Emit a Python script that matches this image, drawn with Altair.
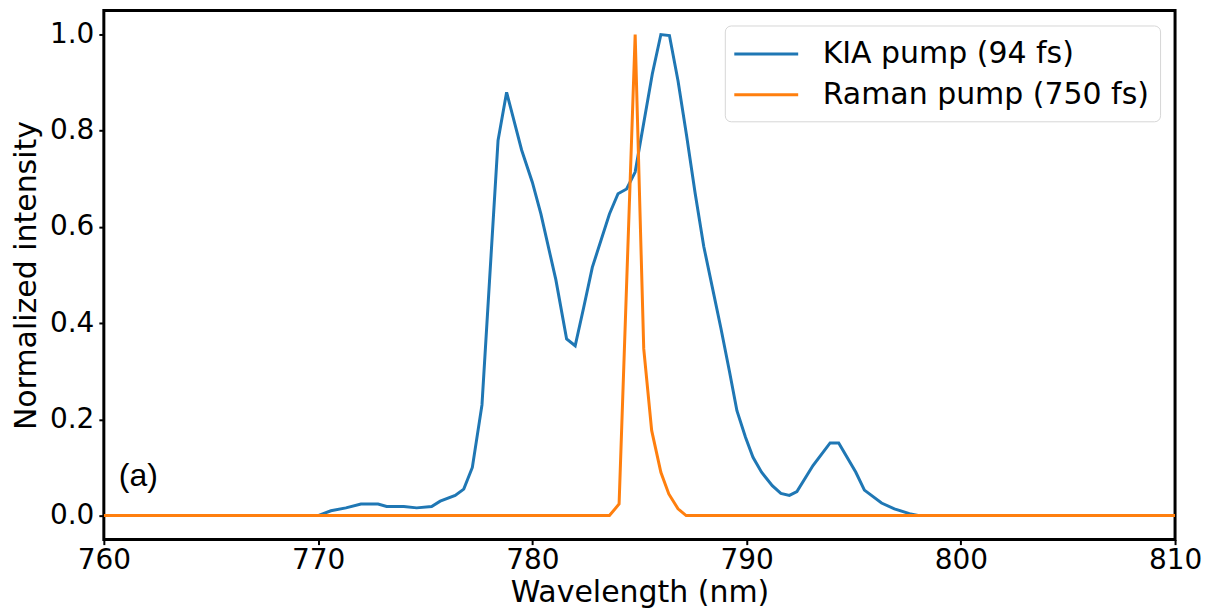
import altair as alt
import pandas as pd

# KIA pump spectrum (blue)
kia_wl = [760.0, 770.0, 770.6, 771.3, 772.0, 772.8, 773.2, 774.0, 774.6, 775.3,
          775.7, 776.4, 776.8, 777.2, 777.65, 778.4, 778.8, 779.5, 780.0, 780.4,
          781.1, 781.6, 782.0, 782.4, 782.8, 783.6, 784.0, 784.4, 784.8, 785.6,
          786.0, 786.4, 786.8, 787.2, 787.6, 788.0, 788.4, 788.8, 789.2, 789.55,
          789.95, 790.3, 790.7, 791.2, 791.6, 792.0, 792.35, 793.1, 793.9, 794.3,
          795.1, 795.5, 796.3, 796.9, 797.6, 798.0, 810.0]
kia_val = [0.0, 0.0, 0.010, 0.016, 0.024, 0.024, 0.019, 0.019, 0.016, 0.019,
           0.030, 0.042, 0.055, 0.100, 0.230, 0.780, 0.880, 0.760, 0.693, 0.627,
           0.490, 0.367, 0.353, 0.433, 0.516, 0.627, 0.669, 0.679, 0.714, 0.918,
           1.000, 0.998, 0.904, 0.790, 0.670, 0.560, 0.475, 0.390, 0.300, 0.218,
           0.163, 0.121, 0.090, 0.062, 0.046, 0.042, 0.050, 0.104, 0.151, 0.151,
           0.090, 0.053, 0.026, 0.014, 0.004, 0.0, 0.0]

# Raman pump spectrum (orange)
raman_wl = [760.0, 783.6, 784.05, 784.8, 785.2, 785.57, 786.0, 786.37, 786.8, 787.18, 810.0]
raman_val = [0.0, 0.0, 0.024, 1.000, 0.347, 0.177, 0.090, 0.045, 0.014, 0.0, 0.0]

series_names = ["KIA pump (94 fs)", "Raman pump (750 fs)"]
series_colors = ["#1f77b4", "#ff7f0e"]

x_ticks = [760, 770, 780, 790, 800, 810]
y_ticks = [0.0, 0.2, 0.4, 0.6, 0.8, 1.0]

panel_label = "(a)"
panel_x = [760.7]
panel_y = [0.062]

df = pd.concat([
    pd.DataFrame({"wl": kia_wl, "val": kia_val, "series": series_names[0], "ord": 0}),
    pd.DataFrame({"wl": raman_wl, "val": raman_val, "series": series_names[1], "ord": 1}),
], ignore_index=True)

FONT = "DejaVu Sans"

lines = alt.Chart(df).mark_line(strokeWidth=3, clip=True).encode(
    x=alt.X("wl:Q",
            scale=alt.Scale(domain=[760, 810], nice=False, zero=False),
            axis=alt.Axis(values=x_ticks, title="Wavelength (nm)", format="d",
                          labelFontSize=28, titleFontSize=30, labelFont=FONT, titleFont=FONT,
                          titleFontWeight="normal", labelColor="black", titleColor="black",
                          tickColor="black", tickWidth=2, tickSize=5, labelPadding=2,
                          titlePadding=3, domain=False, grid=False, labelFlush=False)),
    y=alt.Y("val:Q",
            scale=alt.Scale(domain=[-0.05, 1.05], nice=False, zero=False),
            axis=alt.Axis(values=y_ticks, title="Normalized intensity", format=".1f",
                          labelFontSize=28, titleFontSize=30, labelFont=FONT, titleFont=FONT,
                          titleFontWeight="normal", labelColor="black", titleColor="black",
                          tickColor="black", tickWidth=2, tickSize=5, labelPadding=5,
                          titlePadding=8, domain=False, grid=False, labelFlush=False)),
    color=alt.Color("series:N",
                    scale=alt.Scale(domain=series_names, range=series_colors),
                    legend=alt.Legend(orient="none", legendX=622, legendY=15, title=None,
                                      symbolType="M-2,0H2", symbolSize=1024,
                                      symbolOffset=13,
                                      symbolStrokeWidth=3, labelFontSize=30, labelFont=FONT,
                                      labelColor="black", labelOffset=39, labelLimit=0,
                                      strokeColor="#d6d6d6", fillColor="white",
                                      cornerRadius=6, padding=11, rowPadding=8)),
    order=alt.Order("ord:Q"),
)

label_df = pd.DataFrame({"x": panel_x, "y": panel_y, "t": [panel_label]})
label = alt.Chart(label_df).mark_text(align="left", baseline="alphabetic",
                                      font="Liberation Sans", fontSize=32,
                                      color="black").encode(
    x="x:Q", y="y:Q", text="t:N")

chart = alt.layer(lines, label).properties(
    width=1073, height=530,
    autosize=alt.AutoSizeParams(type="none"),
    padding={"left": 96, "top": 2, "right": 30, "bottom": 68},
).configure(background="white").configure_view(stroke="black", strokeWidth=3)

chart.save("out.html", embed_options={"renderer": "svg", "actions": False})
